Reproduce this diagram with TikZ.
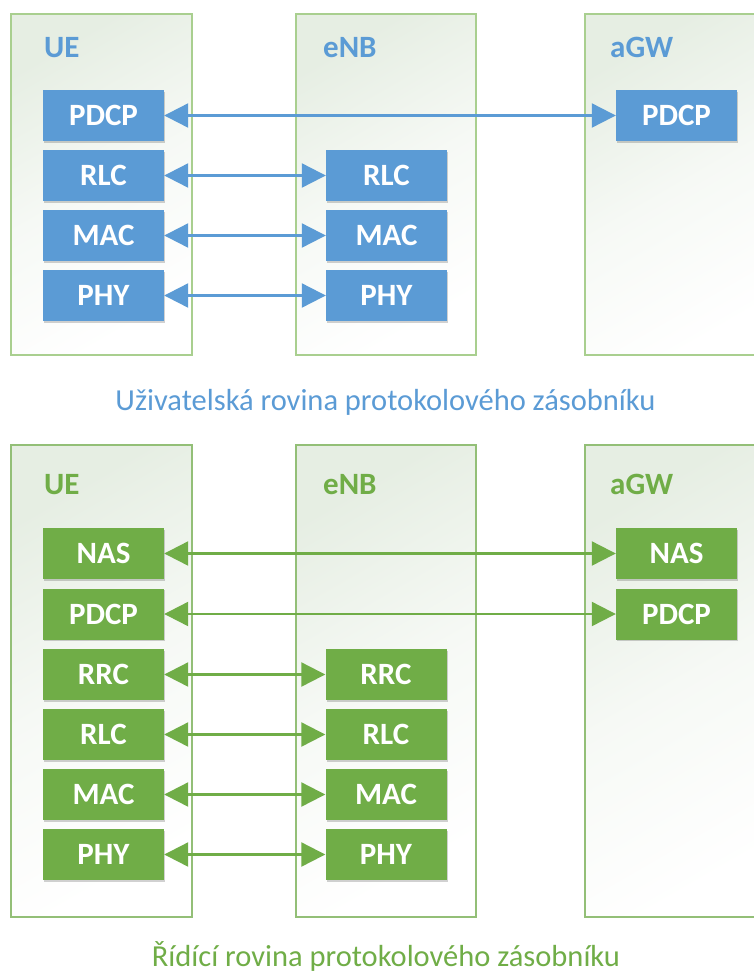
\documentclass[tikz,border=0pt]{standalone}
\usepackage{fontspec}
\setmainfont{Carlito}
\usetikzlibrary{arrows.meta,shadows}

\definecolor{ublue}{HTML}{5B9BD5}
\definecolor{cgreen}{HTML}{70AD47}
\definecolor{framegreen}{HTML}{A9CF8F}
\definecolor{framegreenB}{HTML}{93BF77}
\definecolor{framefill}{HTML}{E6EEE3}

\tikzset{
  layer/.style={draw=none, minimum width=121pt, minimum height=51pt, inner sep=0pt,
    text=white, font=\fontsize{31}{33}\selectfont\bfseries,
    drop shadow={shadow xshift=1.2pt, shadow yshift=-1.5pt, opacity=0.18, fill=black}},
  bluelayer/.style={layer, fill=ublue},
  greenlayer/.style={layer, fill=cgreen},
  entity/.style={anchor=base west, inner sep=0pt, font=\fontsize{31}{33}\selectfont\bfseries},
  caption/.style={anchor=base, inner sep=0pt, font=\fontsize{30.5}{32}\selectfont},
  peer/.style={line width=2.2pt, {Triangle[length=24pt,width=24pt]}-{Triangle[length=24pt,width=24pt]}},
  frameT/.style={draw=framegreen, line width=1.1pt, shading=axis, top color=framefill, bottom color=white, middle color=framefill!35!white, shading angle=30},
  frameB/.style={draw=framegreenB, line width=1.1pt, shading=axis, top color=framefill, bottom color=white, middle color=framefill!35!white, shading angle=30},
}

\begin{document}
\begin{tikzpicture}[x=1pt,y=-1pt]
\useasboundingbox (0,0) rectangle (754,975);
\clip (0,0) rectangle (754,975);

% ---------- user plane ----------
\path[frameT] (11,14) rectangle (192,355);
\path[frameT] (296,14) rectangle (476,355);
\path[frameT] (585,14) rectangle (790,355);

\node[entity, text=ublue] (tUE) at (44,57) {UE};
\node[entity, text=ublue] (tENB) at (323,57) {eNB};
\node[entity, text=ublue] (tAGW) at (610,57) {aGW};

\node[bluelayer] (uPdcp) at (103.5,115.5) {PDCP};
\node[bluelayer] (uRlc)  at (103.5,175.5) {RLC};
\node[bluelayer] (uMac)  at (103.5,235.5) {MAC};
\node[bluelayer] (uPhy)  at (103.5,295.5) {PHY};

\node[bluelayer] (eRlc) at (386.5,175.5) {RLC};
\node[bluelayer] (eMac) at (386.5,235.5) {MAC};
\node[bluelayer] (ePhy) at (386.5,295.5) {PHY};

\node[bluelayer] (gPdcp) at (676.5,115.5) {PDCP};

\draw[peer, ublue] (uPdcp.east) -- (gPdcp.west);
\draw[peer, ublue] (uRlc.east) -- (eRlc.west);
\draw[peer, ublue] (uMac.east) -- (eMac.west);
\draw[peer, ublue] (uPhy.east) -- (ePhy.west);

\node[caption, text=ublue] (capU) at (385.5,410) {Uživatelská rovina protokolového zásobníku};

% ---------- control plane ----------
\path[frameB] (11,445) rectangle (192,917);
\path[frameB] (296,445) rectangle (476,917);
\path[frameB] (585,445) rectangle (790,917);

\node[entity, text=cgreen] (bUE) at (44,494) {UE};
\node[entity, text=cgreen] (bENB) at (323,494) {eNB};
\node[entity, text=cgreen] (bAGW) at (610,494) {aGW};

\node[greenlayer] (cNas)  at (103.5,553.5) {NAS};
\node[greenlayer] (cPdcp) at (103.5,614) {PDCP};
\node[greenlayer] (cRrc)  at (103.5,674.5) {RRC};
\node[greenlayer] (cRlc)  at (103.5,734.5) {RLC};
\node[greenlayer] (cMac)  at (103.5,794.5) {MAC};
\node[greenlayer] (cPhy)  at (103.5,854.5) {PHY};

\node[greenlayer] (fRrc) at (386,674.5) {RRC};
\node[greenlayer] (fRlc) at (386,734.5) {RLC};
\node[greenlayer] (fMac) at (386,794.5) {MAC};
\node[greenlayer] (fPhy) at (386,854.5) {PHY};

\node[greenlayer] (hNas)  at (676.5,553.5) {NAS};
\node[greenlayer] (hPdcp) at (676.5,614) {PDCP};

\draw[peer, cgreen] (cNas.east) -- (hNas.west);
\draw[peer, cgreen] (cPdcp.east) -- (hPdcp.west);
\draw[peer, cgreen] (cRrc.east) -- (fRrc.west);
\draw[peer, cgreen] (cRlc.east) -- (fRlc.west);
\draw[peer, cgreen] (cMac.east) -- (fMac.west);
\draw[peer, cgreen] (cPhy.east) -- (fPhy.west);

\node[caption, text=cgreen] (capC) at (386,966) {Řídící rovina protokolového zásobníku};
\end{tikzpicture}
\end{document}
